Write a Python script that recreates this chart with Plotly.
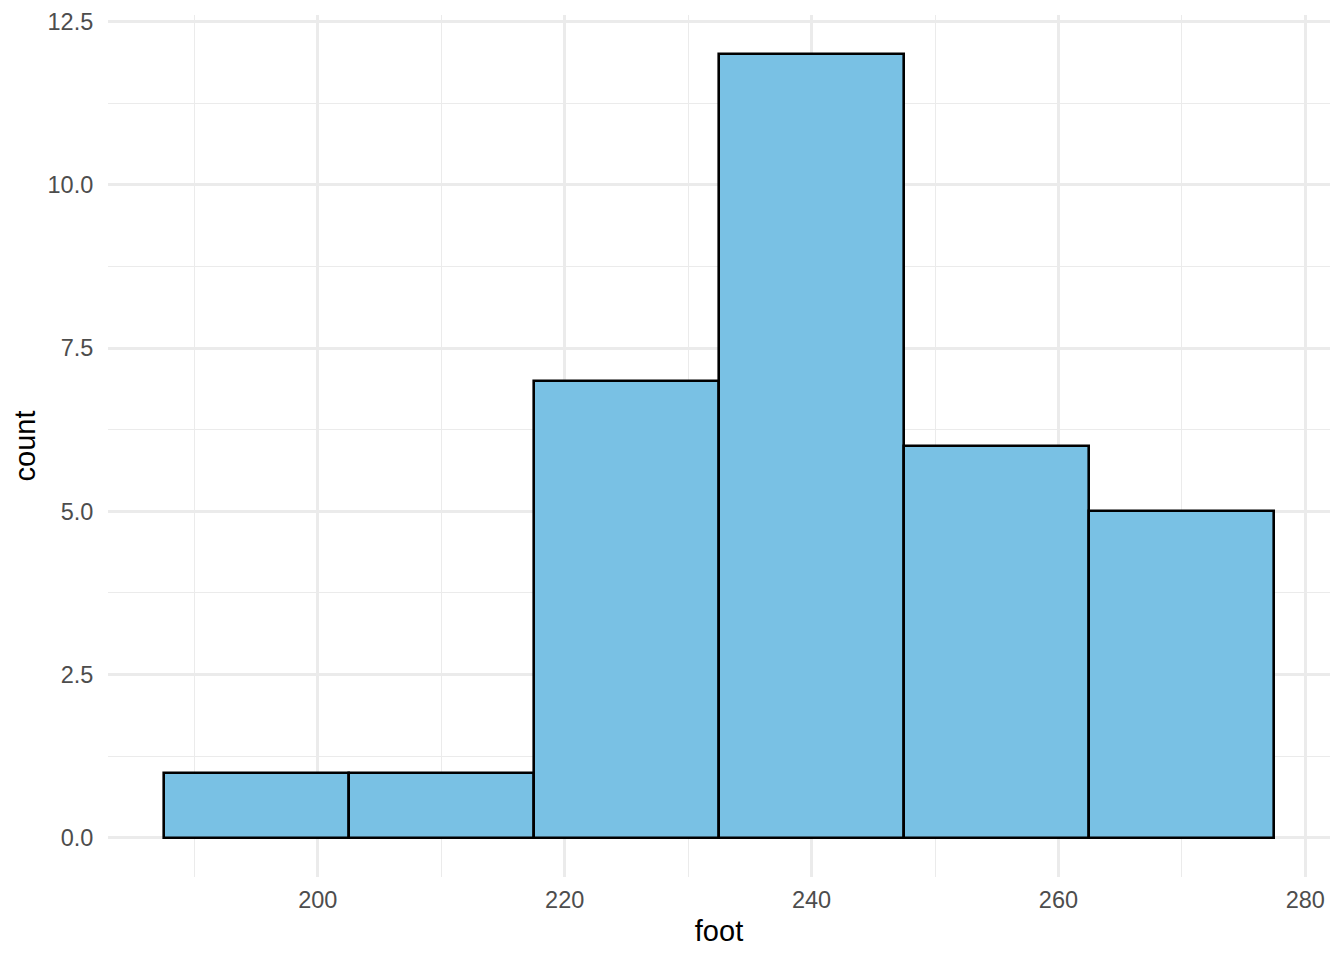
import plotly.graph_objects as go

# Histogram bins (binwidth 15) and counts
bin_edges = [187.5, 202.5, 217.5, 232.5, 247.5, 262.5, 277.5]
counts = [1, 1, 7, 12, 6, 5]

x_ticks = [200, 220, 240, 260, 280]
y_ticks = [0.0, 2.5, 5.0, 7.5, 10.0, 12.5]

centers = [(a + b) / 2 for a, b in zip(bin_edges[:-1], bin_edges[1:])]
widths = [b - a for a, b in zip(bin_edges[:-1], bin_edges[1:])]

fig = go.Figure(
    go.Bar(
        x=centers,
        y=counts,
        width=widths,
        marker=dict(color="#79C1E4", line=dict(color="black", width=2.6)),
        hoverinfo="skip",
    )
)

grid = "#EBEBEB"
fig.update_layout(
    width=1344,
    height=960,
    plot_bgcolor="white",
    paper_bgcolor="white",
    margin=dict(l=100, r=22, t=7, b=91),
    font=dict(family="Liberation Sans, Arial, sans-serif", size=23.5, color="#4D4D4D"),
    showlegend=False,
    bargap=0,
)
fig.update_xaxes(
    range=[183, 282],
    tickvals=x_ticks,
    ticktext=[str(v) for v in x_ticks],
    showgrid=True,
    gridcolor=grid,
    gridwidth=2.6,
    minor=dict(tickvals=[190, 210, 230, 250, 270], showgrid=True, gridcolor=grid, gridwidth=1.3),
    zeroline=False,
    showline=False,
    automargin=False,
    ticks="outside",
    ticklen=2,
    tickcolor="rgba(0,0,0,0)",
    tickfont=dict(size=23.5, color="#4D4D4D"),
    title=dict(text="foot", font=dict(size=29, color="black"), standoff=8),
)
fig.update_yaxes(
    range=[-0.6, 12.6],
    tickvals=y_ticks,
    ticktext=[f"{v:.1f}" for v in y_ticks],
    showgrid=True,
    gridcolor=grid,
    gridwidth=2.6,
    minor=dict(tickvals=[1.25, 3.75, 6.25, 8.75, 11.25], showgrid=True, gridcolor=grid, gridwidth=1.3),
    zeroline=False,
    showline=False,
    automargin=False,
    ticks="outside",
    ticklen=9,
    tickcolor="rgba(0,0,0,0)",
    tickfont=dict(size=23.5, color="#4D4D4D"),
    title=dict(text="count", font=dict(size=29, color="black"), standoff=3),
)

fig.write_html("out.html")
